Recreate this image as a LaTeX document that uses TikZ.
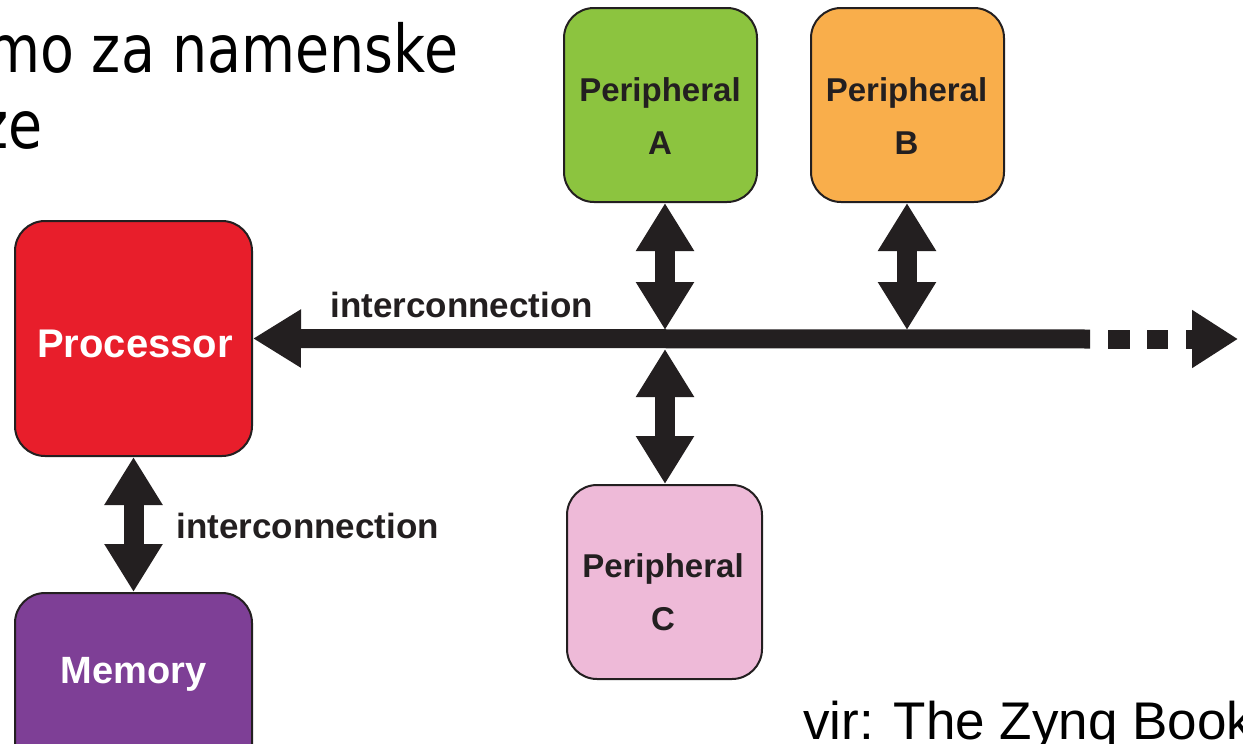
\documentclass[tikz,border=0pt]{standalone}
\usepackage{fontspec}
\setmainfont{Liberation Sans}
\newfontfamily\headfont[FakeStretch=0.84]{DejaVu Sans}
\usetikzlibrary{arrows.meta,calc}

\definecolor{ink}{HTML}{231F20}
\definecolor{procred}{HTML}{E81E2B}
\definecolor{mempurple}{HTML}{7E3F96}
\definecolor{pagreen}{HTML}{8CC43F}
\definecolor{pborange}{HTML}{F9AE4B}
\definecolor{pcpink}{HTML}{EEBAD8}

\tikzset{
  box/.style={draw=ink, line width=1pt, rounded corners=15pt, inner sep=0pt,
              minimum width=#1},
  box/.default=118.5pt,
  link/.style={draw=ink, line width=10pt, {Triangle[length=24pt,width=27.5pt]}-{Triangle[length=24pt,width=27.5pt]}},
  busline/.style={draw=ink, line width=9.5pt},
  whitelabel/.style={font=\bfseries\fontsize{20}{24}\selectfont, text=white, inner sep=0pt},
  periphlabel/.style={font=\bfseries\fontsize{16.5}{26.5}\selectfont, text=ink, align=center, inner sep=0pt},
  linklabel/.style={font=\bfseries\fontsize{17.5}{21}\selectfont, text=ink, inner sep=0pt, anchor=base west},
  headline/.style={font=\headfont\fontsize{33}{40}\selectfont, text=black, inner sep=0pt, anchor=base west},
  source/.style={font=\fontsize{26.5}{32}\selectfont, text=black, inner sep=0pt, anchor=base west}
}

\begin{document}
\begin{tikzpicture}[x=0.5pt,y=-0.5pt]
\useasboundingbox (0,0) rectangle (1243,744);
\clip (0,0) rectangle (1243,744);

% heading text running off the page edge
\node[headline] (head1) at (-14,72) {mo za namenske};
\node[headline] (head2) at (-21,148) {ze};

% blocks
\node[box, fill=procred, minimum height=117.5pt] (proc) at (133.5,338.5) {};
\node[box, fill=mempurple, minimum height=118.5pt] (mem) at (133.5,711.5) {};
\node[box=96.5pt, fill=pagreen, minimum height=97pt] (pa) at (660.5,105) {};
\node[box=96.5pt, fill=pborange, minimum height=97pt] (pb) at (907.5,105) {};
\node[box=97.5pt, fill=pcpink, minimum height=97pt] (pc) at (664.5,582) {};

% block labels
\node[whitelabel, anchor=base] (proctext) at (135,357) {Processor};
\node[whitelabel, font=\bfseries\fontsize{19}{23}\selectfont, anchor=base] (memtext) at (133.5,683) {Memory};
\node[periphlabel] (patext) at (660,116.5) {Peripheral\\A};
\node[periphlabel] (pbtext) at (906.5,116.5) {Peripheral\\B};
\node[periphlabel] (pctext) at (663,592) {Peripheral\\C};

% bus junctions and ends
\coordinate (jA) at (665,339);
\coordinate (jB) at (907,339);
\coordinate (busend) at (1090,339);
\coordinate (busfar) at (1238,339);

% shared bus
\draw[busline, {Triangle[length=24pt,width=27.5pt]}-] (proc.east) -- (busend);
\draw[busline, dash pattern=on 0pt off 9pt on 11pt off 8.5pt on 10.5pt off 9pt on 100pt,
      -{Triangle[length=23pt,width=27.5pt]}] (busend) -- (busfar);

% links between blocks and the bus
\draw[link] (jA |- pa.south) -- ($(jA)+(0,-9)$);
\draw[link] (jB |- pb.south) -- ($(jB)+(0,-9)$);
\draw[link] ($(jA)+(0,10)$) -- (jA |- pc.north);
\draw[link] (proc.south) -- (mem.north);

% link labels
\node[linklabel] (buslabel) at (330,317) {interconnection};
\node[linklabel] (memlabel) at (176,538) {interconnection};

% source note
\node[source] (src) at (803,739) {vir: The Zynq Book};
\end{tikzpicture}
\end{document}
